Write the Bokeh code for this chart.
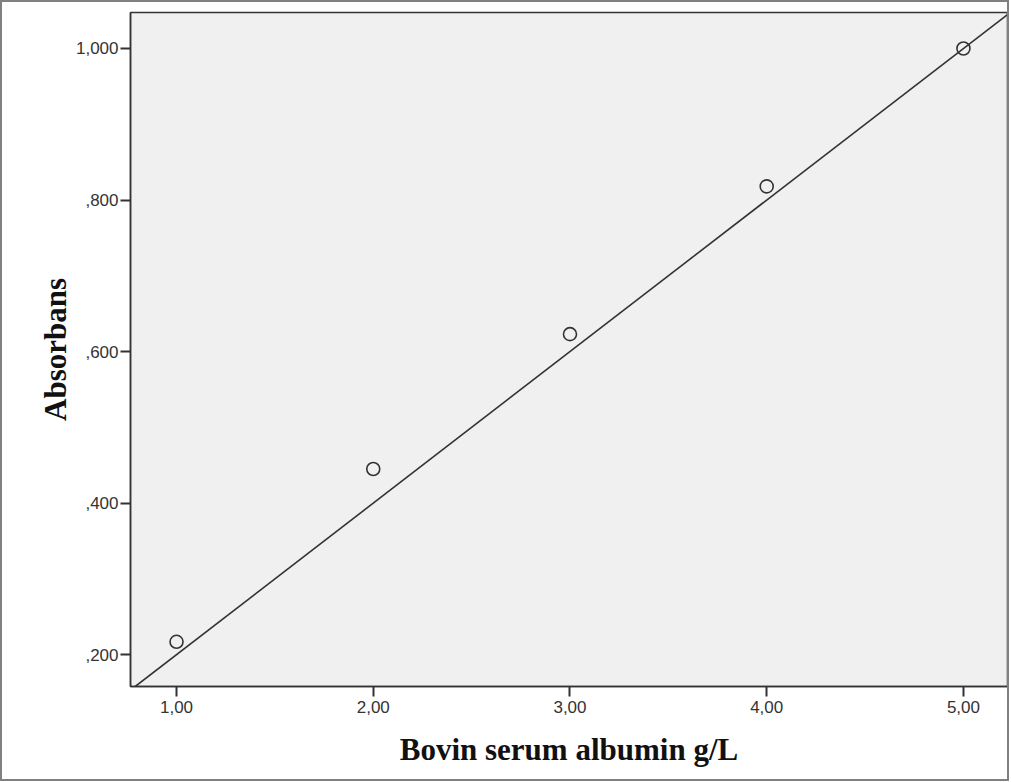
from bokeh.plotting import figure
from bokeh.models import Slope, Range1d, FixedTicker
from bokeh.embed import file_html
from bokeh.resources import INLINE

# data
bsa = [1.0, 2.0, 3.0, 4.0, 5.0]
absorbans = [0.217, 0.445, 0.623, 0.818, 1.0]
fit_gradient = 0.2
fit_intercept = 0.0

x_ticks = [1.0, 2.0, 3.0, 4.0, 5.0]
x_labels = ["1,00", "2,00", "3,00", "4,00", "5,00"]
y_ticks = [0.2, 0.4, 0.6, 0.8, 1.0]
y_labels = [",200", ",400", ",600", ",800", "1,000"]

p = figure(width=1009, height=781, output_backend="svg", toolbar_location=None,
           x_range=Range1d(0.766, 5.224), y_range=Range1d(0.158, 1.0475),
           min_border_left=128, min_border_right=4, min_border_top=10, min_border_bottom=97)

p.background_fill_color = "#f0f0f0"
p.border_fill_color = "white"
p.outline_line_color = "#333333"
p.outline_line_width = 1.5
p.grid.visible = False
p.styles = {"border": "2px solid #808080", "box-sizing": "border-box"}

p.add_layout(Slope(gradient=fit_gradient, y_intercept=fit_intercept,
                   line_color="#333333", line_width=1.6))

p.scatter(bsa, absorbans, marker="circle", size=13, fill_color=None,
          line_color="#333333", line_width=1.6)

for ax in (p.xaxis[0], p.yaxis[0]):
    ax.axis_line_color = "#333333"
    ax.axis_line_width = 1.5
    ax.major_tick_line_color = "#333333"
    ax.major_tick_line_width = 2
    ax.major_tick_out = 10
    ax.major_tick_in = 0
    ax.minor_tick_line_color = None
    ax.major_label_text_font = "Liberation Sans"
    ax.major_label_text_font_size = "17px"
    ax.major_label_text_color = "#333333"
    ax.axis_label_text_font = "Liberation Serif"
    ax.axis_label_text_font_style = "bold"
    ax.axis_label_text_font_size = "31px"
    ax.axis_label_text_color = "#111111"

p.xaxis.ticker = FixedTicker(ticks=x_ticks)
p.xaxis.major_label_overrides = dict(zip(x_ticks, x_labels))
p.yaxis.ticker = FixedTicker(ticks=y_ticks)
p.yaxis.major_label_overrides = dict(zip(y_ticks, y_labels))
p.xaxis.axis_label = "Bovin serum albumin g/L"
p.yaxis.axis_label = "Absorbans"
p.xaxis.axis_label_standoff = 16
p.yaxis.axis_label_standoff = 0
p.xaxis.major_label_standoff = 4
p.yaxis.major_label_standoff = 2

open("out.html", "w").write(file_html(p, INLINE))
